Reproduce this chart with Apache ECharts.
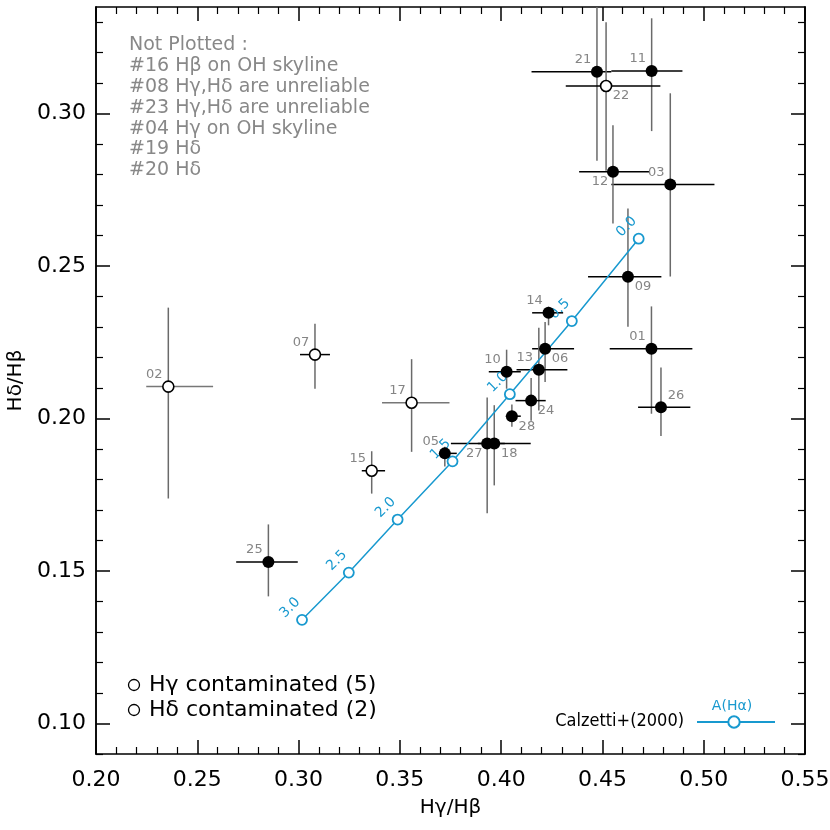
<!DOCTYPE html>
<html>
<head>
<meta charset="utf-8">
<title>Hd/Hb vs Hg/Hb</title>
<script src="https://cdn.jsdelivr.net/npm/echarts@6/dist/echarts.min.js"></script>
<style>
	html, body { margin: 0; padding: 0; background: #fff; }
	#chart { width: 830px; height: 830px; }
</style>
</head>
<body>
<div id="chart"></div>
<script>
	// galaxies: id, Hg/Hb (with range), Hd/Hb (with range)
	const ids  = ['01', '02', '03', '05', '06', '07', '09', '10', '11', '12', '13', '14', '15', '17', '18', '21', '22', '24', '25', '26', '27', '28'];
	const hgHb = [0.4742, 0.2357, 0.4835, 0.3722, 0.4217, 0.3081, 0.4626, 0.4027, 0.4743, 0.4552, 0.4186, 0.4234, 0.3361, 0.3558, 0.3966, 0.4473, 0.4518, 0.4148, 0.2851, 0.4789, 0.3931, 0.4053];
	const hgLo = [0.4536, 0.2248, 0.4544, 0.3703, 0.4153, 0.3007, 0.4429, 0.3939, 0.4544, 0.4385, 0.4076, 0.4153, 0.3312, 0.3412, 0.3885, 0.4150, 0.4319, 0.4071, 0.2692, 0.4676, 0.3752, 0.4023];
	const hgHi = [0.4944, 0.2578, 0.5053, 0.3781, 0.4360, 0.3155, 0.4791, 0.4097, 0.4895, 0.4733, 0.4327, 0.4306, 0.3427, 0.3745, 0.4146, 0.4544, 0.4786, 0.4220, 0.2996, 0.4934, 0.4018, 0.4097];
	const hdHb = [0.2229, 0.2105, 0.2768, 0.1886, 0.2229, 0.2210, 0.2465, 0.2154, 0.3140, 0.2810, 0.2160, 0.2347, 0.1829, 0.2052, 0.1918, 0.3138, 0.3091, 0.2059, 0.1530, 0.2037, 0.1918, 0.2008];
	const hdLo = [0.2016, 0.1738, 0.2466, 0.1843, 0.2120, 0.2098, 0.2301, 0.2098, 0.2943, 0.2640, 0.2027, 0.2306, 0.1754, 0.1891, 0.1781, 0.2846, 0.2813, 0.1993, 0.1417, 0.1943, 0.1690, 0.1973];
	const hdHi = [0.2368, 0.2364, 0.3067, 0.1908, 0.2317, 0.2311, 0.2689, 0.2226, 0.3313, 0.2962, 0.2298, 0.2367, 0.1893, 0.2195, 0.2044, 0.3350, 0.3300, 0.2133, 0.1653, 0.2168, 0.2069, 0.2046];
	const openIds = ['02', '07', '15', '17', '22'];   // contaminated

	// Calzetti+(2000) attenuation track, A(Ha)
	const avLabels = ['0.0', '0.5', '1.0', '1.5', '2.0', '2.5', '3.0'];
	const avHg = [0.4679, 0.4349, 0.4043, 0.3760, 0.3489, 0.3248, 0.3017];
	const avHd = [0.2590, 0.2320, 0.2080, 0.1860, 0.1669, 0.1495, 0.1340];

	// y ticks
	const yTicks = [0.10, 0.15, 0.20, 0.25, 0.30];
	const yMinorTicks = [0.09, 0.11, 0.12, 0.13, 0.14, 0.16, 0.17, 0.18, 0.19, 0.21, 0.22, 0.23, 0.24, 0.26, 0.27, 0.28, 0.29, 0.31, 0.32, 0.33];

	const notPlotted = [
		'Not Plotted :',
		'#16 Hβ on OH skyline',
		'#08 Hγ,Hδ are unreliable',
		'#23 Hγ,Hδ are unreliable',
		'#04 Hγ on OH skyline',
		'#19 Hδ',
		'#20 Hδ'
	];

	// where the id label sits round the dot
	const labelCorner = {
		'01': 'tl', '02': 'tl', '03': 'tl', '05': 'tl', '06': 'br', '07': 'tl', '09': 'br', '10': 'tl',
		'11': 'tl', '12': 'bl', '13': 'tl', '14': 'tl', '15': 'tl', '17': 'tl', '18': 'br', '21': 'tl',
		'22': 'br', '24': 'br', '25': 'tl', '26': 'tr', '27': 'bl', '28': 'br'
	};
	const cornerOffset = { tl: [-14, -12], tr: [15, -12], bl: [-13, 10], br: [15, 10] };
	const grayBars = ['02', '17'];

	const FONT = 'DejaVu Sans';
	const BLUE = '#1899cf';
	const LABEL_GRAY = '#858585';

	const myChart = echarts.init(document.getElementById('chart'));

	const pointItem = (i) => ({
		name: ids[i],
		value: [hgHb[i], hdHb[i]],
		label: { offset: cornerOffset[labelCorner[ids[i]]] }
	});
	const filledPts = [];
	const openPts = [];
	const barData = [];
	for (let i = 0; i < ids.length; i++) {
		(openIds.includes(ids[i]) ? openPts : filledPts).push(pointItem(i));
		barData.push([hgHb[i], hdHb[i], hgLo[i], hgHi[i], hdLo[i], hdHi[i]]);
	}

	const idLabel = {
		show: true,
		position: 'inside',
		formatter: '{b}',
		color: LABEL_GRAY,
		fontFamily: FONT,
		fontSize: 13
	};

	const xAxisBase = {
		type: 'value',
		min: 0.2,
		max: 0.55,
		interval: 0.05,
		axisLine: { show: true, lineStyle: { color: '#000', width: 1.5 } },
		axisTick: { show: true, inside: true, length: 14, lineStyle: { color: '#000', width: 1.5 } },
		minorTick: { show: true, splitNumber: 5, length: 7, lineStyle: { color: '#000', width: 1.2 } },
		splitLine: { show: false },
		minorSplitLine: { show: false }
	};

	const yAxisBase = (pos, ticks, len, showLabel) => ({
		type: 'value',
		position: pos,
		min: 0.09,
		max: 0.335,
		axisLine: { show: true, onZero: false, lineStyle: { color: '#000', width: 1.5 } },
		axisTick: { show: true, inside: true, length: len, customValues: ticks, lineStyle: { color: '#000', width: len > 10 ? 1.5 : 1.2 } },
		axisLabel: showLabel ? {
			show: true,
			customValues: ticks,
			formatter: (v) => v.toFixed(2),
			color: '#000',
			fontFamily: FONT,
			fontSize: 22,
			margin: 10
		} : { show: false },
		splitLine: { show: false }
	});

	const yLeftMain = yAxisBase('left', yTicks, 14, true);
	yLeftMain.name = 'Hδ/Hβ';
	yLeftMain.nameLocation = 'middle';
	yLeftMain.nameGap = 70;
	yLeftMain.nameTextStyle = { color: '#000', fontFamily: FONT, fontSize: 20 };

	const option = {
		animation: false,
		backgroundColor: '#fff',
		grid: {
			left: 96,
			right: 25,
			top: 7,
			bottom: 76,
			containLabel: false,
			outerBoundsMode: 'none'
		},
		xAxis: [
			Object.assign({}, xAxisBase, {
				position: 'bottom',
				axisLabel: {
					formatter: (v) => v.toFixed(2),
					color: '#000',
					fontFamily: FONT,
					fontSize: 22,
					margin: 15,
					showMinLabel: true,
					showMaxLabel: true
				},
				name: 'Hγ/Hβ',
				nameLocation: 'middle',
				nameGap: 44,
				nameTextStyle: { color: '#000', fontFamily: FONT, fontSize: 20 }
			}),
			Object.assign({}, xAxisBase, {
				position: 'top',
				axisLabel: { show: false }
			})
		],
		yAxis: [
			yLeftMain,
			yAxisBase('left', yMinorTicks, 7, false),
			yAxisBase('right', yTicks, 14, false),
			yAxisBase('right', yMinorTicks, 7, false)
		],
		series: [
			{
				// error bars
				type: 'custom',
				xAxisIndex: 0,
				yAxisIndex: 0,
				clip: true,
				z: 2,
				data: barData,
				encode: { x: [0, 2, 3], y: [1, 4, 5] },
				renderItem: function(params, api) {
					const l = api.coord([api.value(2), api.value(1)]);
					const r = api.coord([api.value(3), api.value(1)]);
					const b = api.coord([api.value(0), api.value(4)]);
					const t = api.coord([api.value(0), api.value(5)]);
					const gray = grayBars.includes(ids[params.dataIndex]);
					return {
						type: 'group',
						children: [{
							type: 'line',
							shape: { x1: b[0], y1: b[1], x2: t[0], y2: t[1] },
							style: { stroke: '#6a6a6a', lineWidth: 1.5 }
						}, {
							type: 'line',
							shape: { x1: l[0], y1: l[1], x2: r[0], y2: r[1] },
							style: { stroke: gray ? '#777' : '#000', lineWidth: 1.5 }
						}]
					};
				}
			},
			{
				name: 'Calzetti+(2000)',
				type: 'line',
				z: 3,
				data: avLabels.map((lab, i) => ({ name: lab, value: [avHg[i], avHd[i]] })),
				symbol: 'circle',
				symbolSize: 10,
				showAllSymbol: true,
				lineStyle: { color: BLUE, width: 1.5 },
				itemStyle: { color: '#fff', borderColor: BLUE, borderWidth: 1.8, opacity: 1 },
				label: {
					show: true,
					position: 'inside',
					formatter: '{b}',
					rotate: 45,
					// offset is taken in the rotated frame: this puts it up-left
					offset: [0, -17],
					color: BLUE,
					fontFamily: FONT,
					fontSize: 14
				}
			},
			{
				name: 'clean',
				type: 'scatter',
				z: 4,
				data: filledPts,
				symbol: 'circle',
				symbolSize: 12,
				itemStyle: { color: '#000', opacity: 1 },
				label: idLabel
			},
			{
				name: 'contaminated',
				type: 'scatter',
				z: 4,
				data: openPts,
				symbol: 'circle',
				symbolSize: 11,
				itemStyle: { color: '#fff', borderColor: '#000', borderWidth: 1.6, opacity: 1 },
				label: idLabel
			}
		],
		graphic: [
			{
				type: 'text',
				left: 129,
				top: 35,
				style: {
					text: notPlotted.join('\n'),
					fill: '#888',
					font: '19px "DejaVu Sans"',
					lineHeight: 20.8
				}
			},
			// bottom-left key
			{ type: 'circle', shape: { cx: 134, cy: 685, r: 5.5 }, style: { fill: '#fff', stroke: '#000', lineWidth: 1.3 } },
			{ type: 'text', x: 149, y: 685, style: { text: 'Hγ contaminated (5)', fill: '#000', font: '22px "DejaVu Sans"', verticalAlign: 'middle' } },
			{ type: 'circle', shape: { cx: 134, cy: 710, r: 5.5 }, style: { fill: '#fff', stroke: '#000', lineWidth: 1.3 } },
			{ type: 'text', x: 149, y: 710, style: { text: 'Hδ contaminated (2)', fill: '#000', font: '22px "DejaVu Sans"', verticalAlign: 'middle' } },
			// bottom-right key
			{ type: 'text', x: 684, y: 721, style: { text: 'Calzetti+(2000)', fill: '#000', font: '18px "DejaVu Sans Condensed", "DejaVu Sans"', align: 'right', verticalAlign: 'middle' } },
			{ type: 'line', shape: { x1: 697, y1: 722, x2: 775, y2: 722 }, style: { stroke: BLUE, lineWidth: 2 } },
			{ type: 'circle', shape: { cx: 734, cy: 722, r: 5.7 }, style: { fill: '#fff', stroke: BLUE, lineWidth: 2 } },
			{ type: 'text', x: 732, y: 706, style: { text: 'A(Hα)', fill: BLUE, font: '14px "DejaVu Sans"', align: 'center', verticalAlign: 'middle' } }
		]
	};

	myChart.setOption(option);
</script>
</body>
</html>
